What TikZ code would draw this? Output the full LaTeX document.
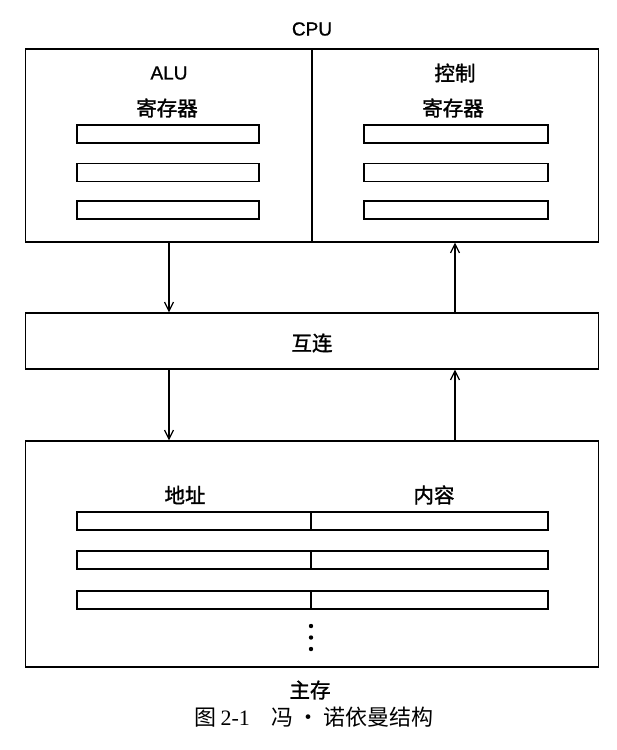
\documentclass[tikz,border=0pt]{standalone}
\usepackage{fontspec}
\setmainfont{Liberation Serif}
\setsansfont{Liberation Sans}
\newfontfamily\cjk{Noto Sans CJK SC}
\newfontfamily\cjkm{Noto Sans CJK SC}[FakeBold=1.5]
\newfontfamily\sfm{Liberation Sans}[FakeBold=0.8]
\usetikzlibrary{arrows.meta}
\tikzset{
  box/.style={draw,line width=1.3pt,inner sep=0pt},
  reg/.style={draw,line width=1.2pt,inner sep=0pt,minimum height=18pt},
  lbl/.style={font=\sfm\fontsize{19}{22}\selectfont},
  cjklbl/.style={font=\cjkm\fontsize{20.5}{24}\selectfont},
  arr/.style={line width=1.2pt,-{Straight Barb[length=9pt,width=9pt,line width=1.2pt]}}
}
\begin{document}
\begin{tikzpicture}[x=1pt,y=-1pt]
            \useasboundingbox (0,0) rectangle (617,750);
            % CPU
            \node[lbl] (cpulbl) at (312,29) {CPU};
            \node[box,minimum width=573pt,minimum height=193pt] (cpu) at (312,145.5) {};
            \draw[line width=1.2pt] (cpu.north) -- (cpu.south);
            \node[lbl] (alu) at (169,73) {ALU};
            \node[cjklbl] (alureg) at (167,108) {寄存器};
            \node[cjklbl] (ctl) at (455,73) {控制};
            \node[cjklbl] (ctlreg) at (453,108) {寄存器};
            \foreach \y/\i in {134/1,172.5/2,210/3}{
              \node[reg,minimum width=182pt] (a\i) at (168,\y) {};
              \node[reg,minimum width=184pt] (c\i) at (456,\y) {};
            }
            % interconnect
            \node[box,minimum width=573pt,minimum height=56pt] (ic) at (312,341) {};
            \node[cjklbl] (iclbl) at (312,343) {互连};
            % main memory
            \node[box,minimum width=573pt,minimum height=226pt] (mem) at (312,554) {};
            \node[cjklbl] (addr) at (185,495) {地址};
            \node[cjklbl] (cont) at (434,495) {内容};
            \foreach \y/\i in {521/1,560/2,600/3}{
              \node[reg,minimum width=234pt] (m\i) at (194,\y) {};
              \node[reg,minimum width=237pt] (n\i) at (429.5,\y) {};
            }
            \foreach \y in {626,637.5,649} \fill (311,\y) circle (2.2pt);
            \node[cjklbl] (memlbl) at (310,690) {主存};
            % arrows
            \draw[arr] (cpu.south -| alu) -- (ic.north -| alu);
            \draw[arr] (ic.north -| ctl) -- (cpu.south -| ctl);
            \draw[arr] (ic.south -| alu) -- (mem.north -| alu);
            \draw[arr] (mem.north -| ctl) -- (ic.south -| ctl);
            % caption
            \node[font=\fontsize{22}{25}\selectfont] (cap) at (314,717.5) {{\cjk 图}\,2-1\hspace{1em}{\cjk 冯\,·\,诺依曼结构}};
        \end{tikzpicture}
\end{document}
